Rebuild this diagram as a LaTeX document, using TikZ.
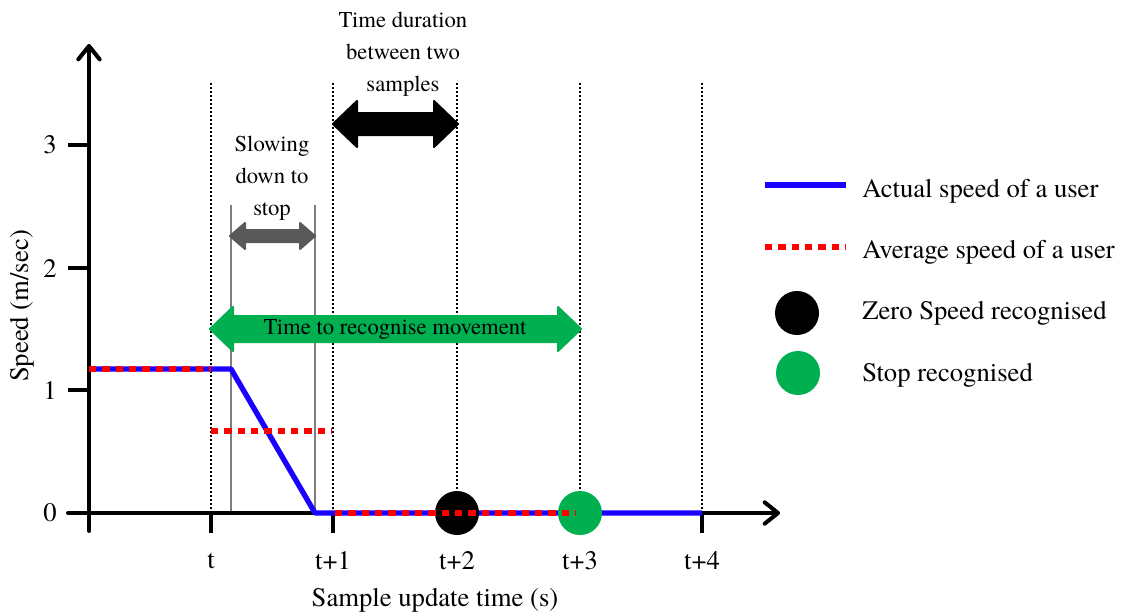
\documentclass[tikz,border=0pt]{standalone}
\usepackage{fontspec}
\setmainfont{texgyretermes}[Extension=.otf, UprightFont=*-regular, BoldFont=*-bold]
\usetikzlibrary{arrows.meta}
\definecolor{speedblue}{HTML}{1A00FF}
\definecolor{avgred}{HTML}{FF0000}
\definecolor{stopgreen}{HTML}{00B050}
\definecolor{arrowgrey}{HTML}{595959}
\definecolor{guidegrey}{HTML}{7F7F7F}
\tikzset{
  axisline/.style={line width=3pt, line cap=round,
    -{Straight Barb[length=10pt,width=16pt,line cap=round,round]}},
  tickline/.style={line width=3pt},
  sampleline/.style={line width=1.5pt, dash pattern=on 1.5pt off 1.5pt},
  guideline/.style={line width=1.5pt, guidegrey},
  actual/.style={line width=4pt, speedblue, line join=round},
  average/.style={line width=4.2pt, avgred, dash pattern=on 5.5pt off 4.5pt},
  txt/.style={inner sep=0pt, align=center, font=\rmfamily\fontsize{20}{24}\selectfont},
  note/.style={inner sep=0pt, align=center, font=\rmfamily\fontsize{17}{24}\selectfont},
  dot/.style={circle, inner sep=0pt, minimum size=33pt},
  blockarrow/.style={line width=1.5pt, line join=round},
}
\begin{document}
\begin{tikzpicture}[x=0.75pt, y=-0.75pt]
\useasboundingbox (0,0) rectangle (1136,615);

% sample instants along the time axis
\foreach \n/\x/\l in {t0/211/t, t1/333/t+1, t2/457/t+2, t3/580/t+3, t4/702/t+4}{
  \coordinate (\n top) at (\x,83);
  \coordinate (\n base) at (\x,513);
  \coordinate (\n tick) at (\x,533);
  \draw[sampleline] (\n top) -- (\n base);
  \node[txt] (\n lbl) at (\x,561) {\l};
}

% guides bounding the deceleration phase
\coordinate (slowA top) at (231,205);
\coordinate (slowA base) at (231,513);
\coordinate (slowB top) at (315,205);
\coordinate (slowB base) at (315,513);
\draw[guideline] (slowA top) -- (slowA base);
\draw[guideline] (slowB top) -- (slowB base);

% axes
\coordinate (ybot) at (89,531);
\coordinate (ytop) at (89,44);
\coordinate (xleft) at (68,513);
\coordinate (xright) at (780,513);
\draw[axisline] (ybot) -- (ytop);
\draw[axisline] (xleft) -- (xright);
\foreach \n in {t0,t1,t2,t3,t4}{
  \draw[tickline] (\n base) -- (\n tick);
}
\foreach \v/\y in {0/513,1/390,2/268,3/145}{
  \coordinate (ytick\v) at (68,\y);
  \coordinate (yaxis\v) at (89,\y);
  \draw[tickline] (ytick\v) -- (yaxis\v);
  \node[txt] (ylbl\v) at (50,\y) {\v};
}
\node[txt] (xtitle) at (435,600) {Sample update time (s)};
\node[txt, rotate=90] (ytitle) at (22,306) {Speed (m/sec)};

% actual speed profile
\coordinate (v0) at (89,369);
\coordinate (v1) at (231,369);
\coordinate (v2) at (315,513);
\coordinate (v3) at (702,513);
\draw[actual] (v0) -- (v1) -- (v2) -- (v3);

% recognition events
\node[dot, fill=black] (zero) at (457,513) {};
\node[dot, fill=stopgreen] (stop) at (580,513) {};

% averaged speed per sample interval
\coordinate (a0) at (89,369);
\coordinate (a1) at (211,369);
\coordinate (b0) at (211,431);
\coordinate (b1) at (332,431);
\coordinate (c0) at (335,513);
\coordinate (c1) at (576,513);
\draw[average] (a0) -- (a1);
\draw[average] (b0) -- (b1);
\draw[average] (c0) -- (c1);

% duration between two samples
\fill[black, draw=black, blockarrow]
  (333,124) -- (357,101) -- (357,113) -- (434,113) -- (434,101) -- (458,124)
  -- (434,147) -- (434,135) -- (357,135) -- (357,147) -- cycle;
\node[note] (duration) at (403,54) {Time duration\\between two\\samples};

% deceleration interval
\fill[arrowgrey, draw=arrowgrey, blockarrow]
  (230,236) -- (245,223) -- (245,230) -- (300,230) -- (300,223) -- (315,236)
  -- (300,249) -- (300,242) -- (245,242) -- (245,249) -- cycle;
\node[note] (slowing) at (272,178) {Slowing\\down to\\stop};

% time needed to recognise the movement
\fill[stopgreen, draw=stopgreen, blockarrow]
  (210,329) -- (233,307) -- (233,316) -- (558,316) -- (558,307) -- (581,329)
  -- (558,351) -- (558,342) -- (233,342) -- (233,351) -- cycle;
\node[note] (recognise) at (395,329) {Time to recognise movement};

% legend
\coordinate (lgA0) at (765,185);
\coordinate (lgA1) at (846,185);
\draw[actual] (lgA0) -- (lgA1);
\node[txt, anchor=west] (lgAtxt) at (862,191) {Actual speed of a user};
\coordinate (lgB0) at (765,247);
\coordinate (lgB1) at (846,247);
\draw[average] (lgB0) -- (lgB1);
\node[txt, anchor=west] (lgBtxt) at (862,252) {Average speed of a user};
\node[dot, fill=black] (lgC) at (797,313) {};
\node[txt, anchor=west] (lgCtxt) at (862,313) {Zero Speed recognised};
\node[dot, fill=stopgreen] (lgD) at (798,373) {};
\node[txt, anchor=west] (lgDtxt) at (862,375) {Stop recognised};
\end{tikzpicture}
\end{document}
